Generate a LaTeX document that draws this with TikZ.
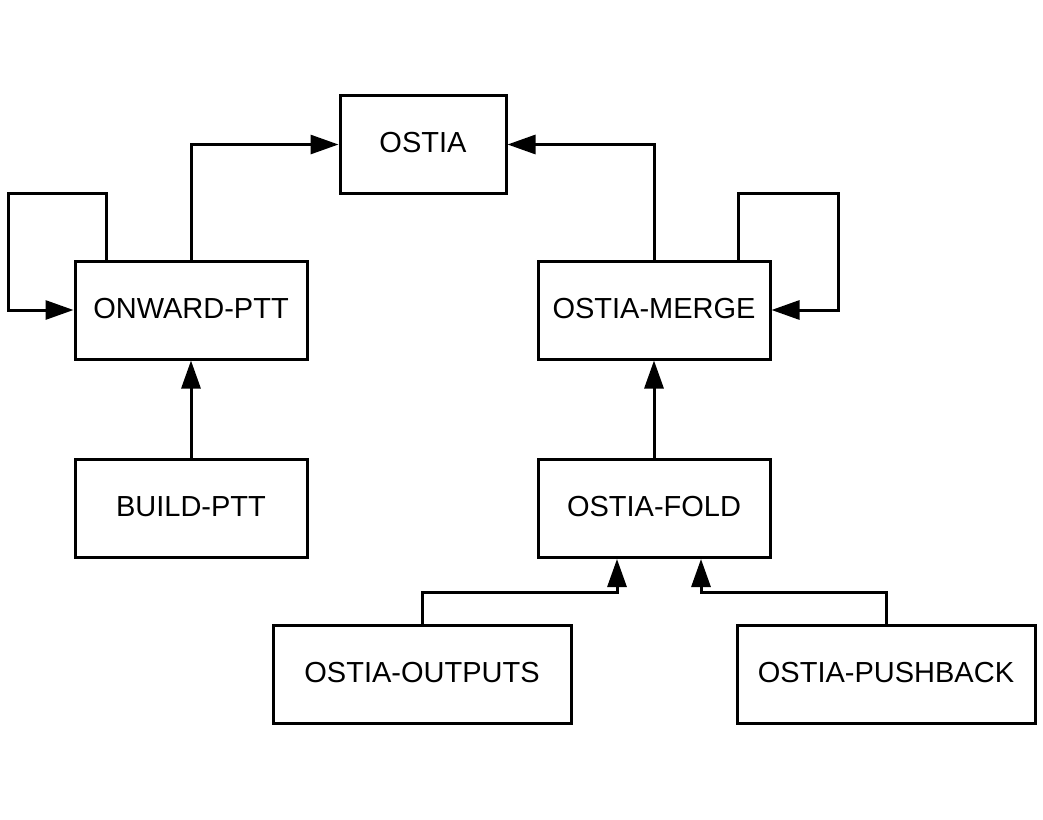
\documentclass[tikz,border=0pt]{standalone}
\usepackage{fontspec}
\setmainfont{Liberation Sans}
\usetikzlibrary{arrows.meta}
\begin{document}
\begin{tikzpicture}[x=1pt,y=-1pt,
  box/.style={draw,line width=3pt,minimum height=98pt,inner sep=0pt,text height=21pt,text depth=5pt,font=\fontsize{29}{34}\selectfont},
  arr/.style={line width=3pt,-{Triangle[length=28pt,width=19pt]}}]
\useasboundingbox (0,0) rectangle (1043,819);
\node[box,minimum width=166pt] (ostia) at (423,144.5) {OSTIA};
\node[box,minimum width=232pt] (onward) at (191,310) {ONWARD-PTT};
\node[box,minimum width=232pt] (merge) at (654,310) {OSTIA-MERGE};
\node[box,minimum width=232pt] (build) at (191,508.5) {BUILD-PTT};
\node[box,minimum width=232pt] (fold) at (654,508.5) {OSTIA-FOLD};
\node[box,minimum width=298pt] (outputs) at (422,674) {OSTIA-OUTPUTS};
\node[box,minimum width=298pt] (pushback) at (886,674) {OSTIA-PUSHBACK};
\coordinate (lc) at (8,193);
\coordinate (rc) at (838,193);
\coordinate (oj) at (617,592);
\coordinate (pj) at (701,592);
\draw[arr] (onward.north) |- (ostia.west);
\draw[arr] (merge.north) |- (ostia.east);
\draw[arr] ([xshift=33pt]onward.north west) |- (lc) |- (onward.west);
\draw[arr] ([xshift=-33pt]merge.north east) |- (rc) |- (merge.east);
\draw[arr] (build.north) -- (onward.south);
\draw[arr] (fold.north) -- (merge.south);
\draw[arr] (outputs.north) |- (oj) -- (oj |- fold.south);
\draw[arr] (pushback.north) |- (pj) -- (pj |- fold.south);
\end{tikzpicture}
\end{document}
